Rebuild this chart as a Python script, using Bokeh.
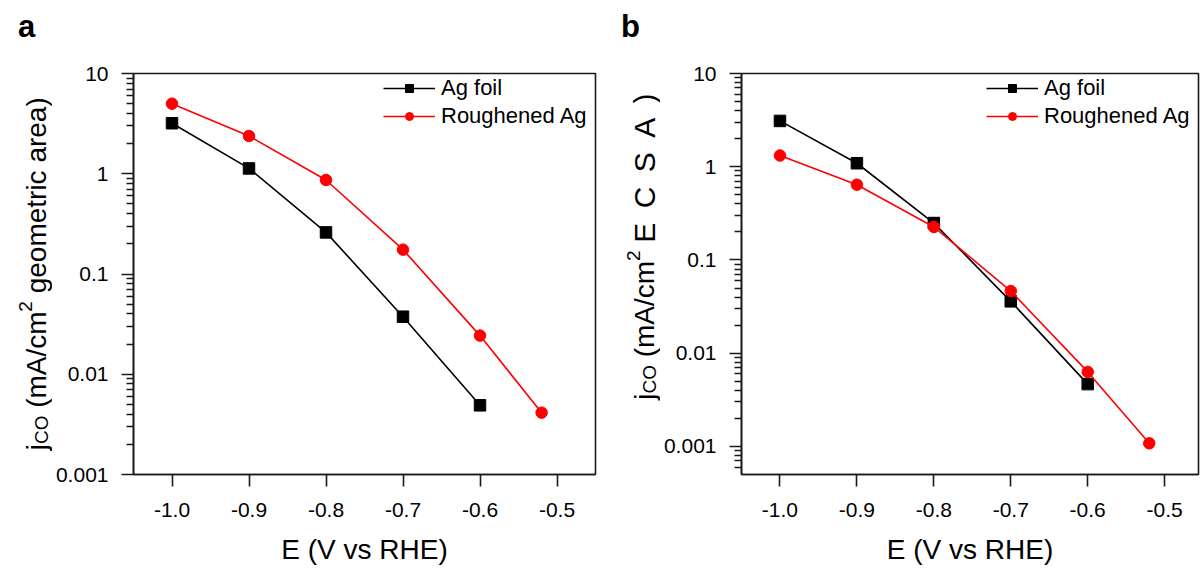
from math import pi
from bokeh.plotting import figure
from bokeh.models import (Range1d, FixedTicker, PrintfTickFormatter,
                          CustomJSTickFormatter, LinearAxis)
from bokeh.core.properties import value
from bokeh.layouts import row
from bokeh.embed import file_html
from bokeh.resources import INLINE

# ---------------- data ----------------
x_foil = [-1.0, -0.9, -0.8, -0.7, -0.6]
x_rough = [-1.0, -0.9, -0.8, -0.7, -0.6, -0.52]

# panel a: geometric-area normalised CO partial current density (mA/cm2)
a_foil = [3.19, 1.13, 0.26, 0.0375, 0.0049]
a_rough = [5.0, 2.38, 0.866, 0.175, 0.0243, 0.00414]

# panel b: ECSA normalised CO partial current density (mA/cm2)
b_foil = [3.1, 1.09, 0.249, 0.036, 0.00466]
b_rough = [1.32, 0.642, 0.226, 0.0464, 0.0063, 0.00108]

series_names = ["Ag foil", "Roughened Ag"]
x_ticks = [-1.0, -0.9, -0.8, -0.7, -0.6, -0.5]
y_ticks = [0.001, 0.01, 0.1, 1, 10]

FONT = "Liberation Sans"
AXC = "#1a1a1a"
H = 567
TOP, BOT = 73, 475          # frame top / bottom (pixels from top)

# Arial / Liberation Sans advance widths (em)
W = {"j": .222, "C": .722, "O": .778, " ": .278, "(": .333, ")": .333,
     "m": .833, "A": .667, "/": .278, "c": .5, "2": .556, "g": .556,
     "e": .556, "o": .556, "t": .278, "r": .333, "i": .222, "a": .556,
     "E": .667, "S": .667}


def tw(s, size):
    return sum(W[ch] for ch in s) * size


def minor_list(lo_exp, hi_exp, extra=()):
    out = list(extra)
    for e in range(lo_exp, hi_exp):
        for m in range(2, 10):
            out.append(m * 10.0 ** e)
    return out


def vtext(f, x, y, t, size):
    f.text(x=[x], y=[y], text=[t], angle=pi / 2, text_font=value(FONT),
           text_font_size=value(f"{size}px"), text_color="black",
           text_align="left", text_baseline="alphabetic")


def label_strip(width, letter, tail, base_x, start_px=None, end_px=None,
                tail_size=28):
    """Narrow figure left of a panel: panel letter (as a bare top axis
    title) and the rotated y-axis title with sub/superscripts.  Its frame
    spans the same pixel rows as the panel frame; data y = H - pixel row."""
    f = figure(width=width, height=H, x_range=Range1d(0, width),
               y_range=Range1d(H - BOT, H - TOP), output_backend="svg",
               toolbar_location=None, x_axis_location=None,
               y_axis_location=None, min_border_left=0,
               min_border_right=0, min_border_top=TOP,
               min_border_bottom=H - BOT)
    f.outline_line_color = None
    f.xgrid.visible = False
    f.ygrid.visible = False
    f.background_fill_color = "white"
    f.border_fill_color = "white"

    top = LinearAxis(ticker=FixedTicker(ticks=[], minor_ticks=[]),
                     axis_label=letter)
    top.axis_line_color = None
    top.major_tick_line_color = None
    top.minor_tick_line_color = None
    top.major_tick_out = 0
    top.minor_tick_out = 0
    top.axis_label_standoff = 30
    top.axis_label_text_font = FONT
    top.axis_label_text_font_size = "31px"
    top.axis_label_text_font_style = "bold"
    top.axis_label_text_color = "black"
    f.add_layout(top, "above")

    big, small = 28, 19
    sp = tw(" ", big)
    head = [("j", big, 0, 0), ("CO", small, 5, 0), ("(mA/cm", big, 0, sp),
            ("2", small, -11, 0)]
    head_len = sum(tw(t, s) + pre for t, s, _, pre in head)
    tail_len = tw(tail, tail_size)
    if start_px is None:      # centre on the frame
        y0 = (H - (TOP + BOT) / 2.0) - (head_len + sp + tail_len) / 2.0
        gap = 0.0
    else:
        y0 = H - start_px
        gap = ((H - end_px) - (y0 + head_len + sp) - tail_len) / (len(tail) - 1)
    yy = y0
    for t, s, shift, pre in head:
        yy += pre
        vtext(f, base_x + shift, yy, t, s)
        yy += tw(t, s)
    yy += sp
    if gap == 0.0:
        vtext(f, base_x, yy, tail, tail_size)
    else:
        for ch in tail:
            vtext(f, base_x, yy, ch, tail_size)
            yy += tw(ch, tail_size) + gap
    return f


def make_panel(yfoil, yrough, ylo, xhi, width, left, right, minors):
    p = figure(width=width, height=H, y_axis_type="log",
               x_range=Range1d(-1.05, xhi), y_range=Range1d(ylo, 10),
               output_backend="svg", toolbar_location=None,
               min_border_left=left, min_border_right=right,
               min_border_top=TOP, min_border_bottom=H - BOT)
    p.xgrid.visible = False
    p.ygrid.visible = False
    p.outline_line_color = AXC
    p.outline_line_width = 1.6
    p.background_fill_color = "white"
    p.border_fill_color = "white"

    # series
    p.line(x_foil, yfoil, line_color="black", line_width=1.6,
           legend_label=series_names[0])
    p.scatter(x_foil, yfoil, marker="square", size=11.5, fill_color="black",
              line_color="black", legend_label=series_names[0])
    p.line(x_rough, yrough, line_color="#ff0000", line_width=1.6,
           legend_label=series_names[1])
    p.scatter(x_rough, yrough, marker="circle", size=11.5,
              fill_color="#ff0000", line_color="#ff0000",
              legend_label=series_names[1])

    # x axis
    xa = p.xaxis[0]
    xa.ticker = FixedTicker(ticks=x_ticks, minor_ticks=[])
    xa.formatter = PrintfTickFormatter(format="%.1f")
    xa.axis_label = "E (V vs RHE)"
    xa.axis_label_text_font = FONT
    xa.axis_label_text_font_size = "28px"
    xa.axis_label_text_font_style = "normal"
    xa.axis_label_text_color = "black"
    xa.axis_label_standoff = 14
    xa.major_label_text_font = FONT
    xa.major_label_text_font_size = "21px"
    xa.major_label_text_color = "black"
    xa.major_label_standoff = 16
    xa.major_tick_out = 12
    xa.major_tick_in = 0
    xa.minor_tick_out = 0
    xa.minor_tick_in = 0
    xa.axis_line_color = AXC
    xa.axis_line_width = 1.6
    xa.major_tick_line_color = AXC
    xa.major_tick_line_width = 1.6

    # y axis
    ya = p.yaxis[0]
    ya.ticker = FixedTicker(ticks=y_ticks, minor_ticks=minors)
    ya.formatter = CustomJSTickFormatter(code="return tick.toString();")
    ya.axis_label = None
    ya.major_label_text_font = FONT
    ya.major_label_text_font_size = "21px"
    ya.major_label_text_color = "black"
    ya.major_label_standoff = 13
    ya.major_tick_out = 12
    ya.major_tick_in = 0
    ya.minor_tick_out = 7
    ya.minor_tick_in = 0
    ya.axis_line_color = AXC
    ya.axis_line_width = 1.6
    ya.major_tick_line_color = AXC
    ya.major_tick_line_width = 1.6
    ya.minor_tick_line_color = AXC
    ya.minor_tick_line_width = 1.3

    # legend
    lg = p.legend[0]
    lg.location = "top_right"
    lg.border_line_alpha = 0
    lg.background_fill_alpha = 0
    lg.label_text_font = FONT
    lg.label_text_font_size = "22px"
    lg.label_text_color = "black"
    lg.glyph_width = 52
    lg.glyph_height = 20
    lg.label_height = 20
    lg.label_width = 152
    lg.spacing = 2
    lg.padding = 2
    lg.margin = 0
    lg.label_standoff = 6
    return p


la = label_strip(52, "a", "geometric area)", base_x=36)
pa = make_panel(a_foil, a_rough, 0.001, -0.45, width=548, left=78,
                right=5, minors=minor_list(-3, 1))
lb = label_strip(60, "b", "ECSA)", base_x=44, start_px=400, end_px=93,
                 tail_size=30)
pb = make_panel(b_foil, b_rough, 0.0005, -0.456, width=540, left=78,
                right=2,
                minors=minor_list(-3, 1, extra=[6e-4, 7e-4, 8e-4, 9e-4]))

layout = row(la, pa, lb, pb)
open("out.html", "w").write(file_html(layout, INLINE))
